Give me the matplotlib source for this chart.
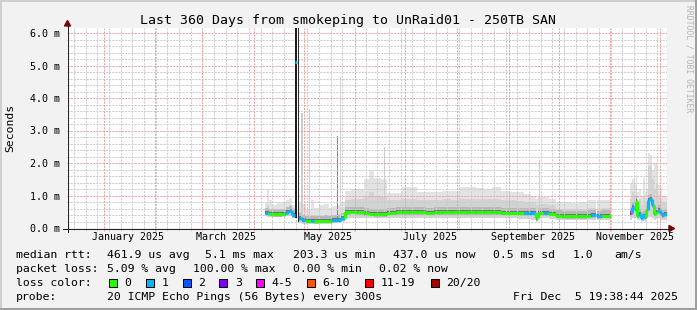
import numpy as np
import pandas as pd
import matplotlib
matplotlib.use("Agg")
import matplotlib.pyplot as plt
import matplotlib.dates as mdates
from matplotlib.transforms import Affine2D
from matplotlib.patches import Rectangle, Polygon
from matplotlib.lines import Line2D

W, H = 697, 310
nan = np.nan
MONO = "DejaVu Sans Mono"

# ---- data (values in ms) ----
# nan marks the end of a run of samples (gap follows)
day = [
    "2025-04-08 14:00", "2025-04-10", "2025-04-11", "2025-04-13", "2025-04-16", "2025-04-19",
    "2025-04-21", "2025-04-23", "2025-04-25", "2025-04-26 08:00",
    "2025-04-29 06:00", "2025-05-01", "2025-05-03", "2025-05-06", "2025-05-08", "2025-05-11",
    "2025-05-14", "2025-05-17", "2025-05-19", "2025-05-22", "2025-05-24 12:00",
    "2025-05-26 12:00", "2025-05-30", "2025-06-03", "2025-06-07", "2025-06-10", "2025-06-13",
    "2025-06-17", "2025-06-21", "2025-06-26", "2025-06-30", "2025-07-04", "2025-07-09",
    "2025-07-14", "2025-07-19", "2025-07-24", "2025-07-29", "2025-08-03", "2025-08-08",
    "2025-08-13", "2025-08-18", "2025-08-23", "2025-08-28", "2025-09-02", "2025-09-07",
    "2025-09-11", "2025-09-15", "2025-09-18",
    "2025-09-19 12:00", "2025-09-23", "2025-09-26", "2025-09-30", "2025-10-04", "2025-10-09",
    "2025-10-14", "2025-10-19", "2025-10-21", "2025-10-24",
    "2025-10-25", "2025-10-28", "2025-11-02",
    "2025-11-13 14:00", "2025-11-14 14:00", "2025-11-15 20:00", "2025-11-17 00:00",
    "2025-11-17 20:00", "2025-11-19 00:00", "2025-11-20 00:00", "2025-11-21 12:00",
    "2025-11-22 12:00", "2025-11-23 12:00", "2025-11-24 14:00", "2025-11-25 20:00",
    "2025-11-27 00:00", "2025-11-28 00:00", "2025-11-29 04:00", "2025-11-30 10:00",
    "2025-12-01 14:00", "2025-12-02 20:00", "2025-12-04 00:00", "2025-12-05 19:38",
]
median_ms = [
    0.47, 0.46, 0.44, 0.42, 0.42, 0.44, 0.49, 0.53, 0.40, nan,
    0.30, 0.24, 0.22, 0.22, 0.21, 0.22, 0.23, 0.22, 0.24, 0.25, 0.30,
    0.49, 0.50, 0.49, 0.46, 0.44, 0.42, 0.42, 0.47, 0.48, 0.48, 0.48, 0.48,
    0.47, 0.48, 0.48, 0.48, 0.48, 0.49, 0.48, 0.48, 0.48, 0.47, 0.47, 0.46,
    0.45, 0.45, 0.30,
    0.45, 0.45, 0.44, 0.38, 0.36, 0.36, 0.37, 0.38, 0.40, nan,
    0.36, 0.38, nan,
    0.45, 0.64, 0.60, 0.84, 0.38, 0.43, 0.32, 0.37, 0.33, 0.55, 0.86, 0.90,
    0.70, 0.44, 0.50, 0.55, 0.45, 0.40, 0.42, nan,
]
loss_idx = [
    1, 1, 0, 0, 0, 0, 1, 1, 1, 0,
    1, 1, 0, 1, 0, 0, 0, 0, 1, 1, 1,
    0, 0, 0, 0, 0, 0, 0, 0, 0, 0, 0, 0,
    0, 0, 0, 0, 0, 0, 0, 0, 0, 0, 0, 0,
    1, 1, 0,
    0, 1, 0, 0, 0, 0, 0, 0, 1, 0,
    1, 0, 0,
    4, 1, 1, 0, 0, 1, 1, 1, 1, 0, 1, 1,
    1, 0, 0, 1, 1, 1, 1, 0,
]
smoke_lo = [
    0.36, 0.33, 0.34, 0.33, 0.33, 0.34, 0.36, 0.38, 0.30, nan,
    0.15, 0.12, 0.12, 0.12, 0.12, 0.13, 0.13, 0.13, 0.14, 0.15, 0.18,
    0.30, 0.30, 0.30, 0.30, 0.30, 0.30, 0.30, 0.30, 0.30, 0.30, 0.30, 0.30,
    0.30, 0.30, 0.30, 0.30, 0.30, 0.30, 0.30, 0.30, 0.30, 0.30, 0.30, 0.28,
    0.28, 0.25, 0.20,
    0.30, 0.30, 0.28, 0.25, 0.24, 0.24, 0.25, 0.25, 0.25, nan,
    0.25, 0.25, nan,
    0.25, 0.30, 0.30, 0.35, 0.25, 0.25, 0.20, 0.22, 0.20, 0.30, 0.35, 0.35,
    0.30, 0.25, 0.28, 0.30, 0.25, 0.25, 0.25, nan,
]
smoke_mid = [
    0.62, 0.70, 0.60, 0.55, 0.58, 0.60, 0.66, 0.72, 0.62, nan,
    0.48, 0.40, 0.36, 0.40, 0.36, 0.38, 0.40, 0.36, 0.40, 0.42, 0.46,
    0.85, 0.90, 0.90, 1.00, 1.10, 1.00, 0.95, 0.85, 0.85, 0.90, 0.90, 0.85,
    0.85, 0.85, 0.88, 0.85, 0.90, 0.90, 0.90, 0.88, 0.88, 0.85, 0.85, 0.82,
    0.80, 0.80, 0.70,
    0.75, 0.75, 0.70, 0.60, 0.60, 0.60, 0.60, 0.62, 0.62, nan,
    0.60, 0.62, nan,
    0.90, 1.10, 1.00, 1.30, 0.80, 0.90, 0.70, 1.00, 0.80, 0.90, 1.90, 1.90,
    1.50, 1.20, 1.40, 1.00, 0.90, 0.80, 0.80, nan,
]
smoke_top = [
    0.80, 1.20, 0.85, 0.72, 0.76, 0.80, 0.86, 0.92, 0.70, nan,
    0.80, 0.75, 0.60, 0.85, 0.62, 0.70, 0.75, 0.62, 0.68, 0.70, 0.80,
    1.15, 1.20, 1.20, 1.50, 1.75, 1.55, 1.50, 1.07, 1.07, 1.27, 1.27, 1.10,
    1.12, 1.10, 1.15, 1.15, 1.25, 1.25, 1.22, 1.20, 1.25, 1.15, 1.10, 1.10,
    1.05, 1.00, 0.90,
    0.95, 0.95, 0.90, 0.80, 0.80, 0.78, 0.80, 0.85, 0.85, nan,
    0.86, 0.86, nan,
    1.38, 1.50, 1.40, 1.63, 1.10, 1.20, 1.00, 1.53, 1.10, 1.16, 2.30, 2.25,
    1.80, 2.00, 2.00, 1.32, 1.27, 1.00, 1.00, nan,
]

# isolated tall spikes
spike_day = ["2025-04-26 08:00", "2025-04-28 04:00", "2025-04-30 12:00", "2025-05-05 00:00",
             "2025-05-21 18:00", "2025-05-23 12:00", "2025-06-19 00:00", "2025-09-20 00:00"]
spike_lo = [0.30, 0.20, 0.30, 0.30, 0.30, 0.30, 0.50, 0.40]
spike_top = [6.15, 6.15, 3.55, 3.65, 2.82, 4.65, 2.50, 2.10]
spike_shade = ["#1c1c1c", "#2c2c2c", "#cccccc", "#cccccc", "#858585", "#d6d6d6", "#cccccc", "#cccccc"]
spike_span = [1.5, 0.6, 0.9, 0.9, 0.9, 0.8, 0.8, 0.8]
spike_median = 5.12

loss_labels = ["0", "1", "2", "3", "4-5", "6-10", "11-19", "20/20"]
loss_colors = ["#26ff00", "#00b8ff", "#0059ff", "#7e00ff", "#ff00ff", "#ff5500", "#ff0000", "#a10000"]

y_ticks = [0, 1, 2, 3, 4, 5, 6]
month_labels = ["January 2025", "March 2025", "May 2025", "July 2025", "September 2025", "November 2025"]
month_label_day = ["2025-01-16 12:00", "2025-03-16 12:00", "2025-05-16 12:00",
                   "2025-07-16 12:00", "2025-09-16 12:00", "2025-11-16 12:00"]

t_start = pd.Timestamp("2024-12-10 19:38:44")
t_end = pd.Timestamp("2025-12-05 19:38:44")

# ---- figure ----
fig = plt.figure(figsize=(W / 100, H / 100), dpi=100, facecolor="#f2f2f2")
px = Affine2D().scale(1 / W, -1 / H).translate(0, 1) + fig.transFigure

ax = fig.add_axes([67 / W, 82 / H, 600 / W, 200 / H])
ax.set_facecolor("white")
for s in ax.spines.values():
    s.set_visible(False)
ax.set_xlim(mdates.date2num(t_start), mdates.date2num(t_end))
ax.set_ylim(0, 200 / 32.5)

x = mdates.date2num(pd.to_datetime(day, format="ISO8601"))
med = np.array(median_ms)
lo = np.array(smoke_lo)
mid = np.array(smoke_mid)
top = np.array(smoke_top)
w = np.diff(x)

# smoke: light outer envelope, darker towards the median
for i in range(len(x) - 1):
    if np.isnan(med[i]):
        continue
    kw = dict(width=w[i], align="edge", linewidth=0, zorder=1)
    ax.bar(x[i], top[i] - lo[i], bottom=lo[i], color="#e3e3e3", **kw)
    ax.bar(x[i], mid[i] - lo[i], bottom=lo[i], color="#d3d3d3", **kw)
    ax.bar(x[i], 0.24, bottom=med[i] - 0.08, color="#b8b8b8", **kw)
    ax.bar(x[i], 0.11, bottom=med[i] - 0.05, color="#737373", **kw)

# grid (drawn over the smoke, like rrdtool)
grid_c = "#cbcbcb"
mgrid_c = "#eea0a0"
for k in range(1, 31):
    v = k * 0.2
    if v > 6.16:
        break
    major = k % 5 == 0
    ax.axhline(v, color=mgrid_c if major else grid_c, lw=0.72, dashes=(2, 1.2), zorder=2)
weeks = pd.date_range(t_start, t_end, freq="W-SUN").normalize()
months = pd.date_range(t_start, t_end, freq="MS")
for d in weeks:
    if d.day != 1:
        ax.axvline(mdates.date2num(d), color=grid_c, lw=0.72, dashes=(2, 1.2), zorder=2)
for d in months:
    ax.axvline(mdates.date2num(d), color=mgrid_c, lw=0.72, dashes=(2, 1.2), zorder=2)

ax.set_xticks(mdates.date2num(months))
ax.set_xticks(mdates.date2num(weeks), minor=True)
ax.tick_params(axis="x", which="major", length=2, width=0.7, color=mgrid_c, labelbottom=False)
ax.tick_params(axis="x", which="minor", length=2, width=0.7, color=grid_c)
ax.set_yticks([])

sx = mdates.date2num(pd.to_datetime(spike_day, format="ISO8601"))
for xi, l, t, c, sp in zip(sx, spike_lo, spike_top, spike_shade, spike_span):
    z = 2.5 if c < "#50" else 1.5
    ax.bar(xi, t - l, bottom=l, width=sp, align="edge", color=c, linewidth=0, zorder=z)

# median line coloured by loss
for i in range(len(x) - 1):
    if np.isnan(med[i]):
        continue
    c = loss_colors[loss_idx[i]]
    ax.hlines(med[i], x[i], x[i + 1], color=c, lw=2.2, zorder=3)
    if not np.isnan(med[i + 1]):
        ax.vlines(x[i + 1], min(med[i], med[i + 1]), max(med[i], med[i + 1]),
                  color=loss_colors[loss_idx[i + 1]], lw=2.2, zorder=3)
ax.hlines(spike_median, sx[0], sx[0] + spike_span[0], color=loss_colors[1], lw=2.2, zorder=3)

# axes with arrows
fig.add_artist(Line2D([63, 670], [228.5, 228.5], color="#202020", lw=0.75, transform=px))
fig.add_artist(Line2D([67.5, 67.5], [232, 24], color="#202020", lw=0.75, transform=px))
fig.add_artist(Polygon([(669, 225.5), (669, 231.5), (674.5, 228.5)], closed=True,
                       color="#800000", transform=px))
fig.add_artist(Polygon([(64.5, 26), (70.5, 26), (67.5, 20.5)], closed=True,
                       color="#800000", transform=px))

# tick labels
for v in y_ticks:
    fig.text(60, 228 - 32.5 * v + 4, "%.1f m" % v, ha="right", va="baseline",
             family=MONO, fontsize=7.2, transform=px)
for lab, d in zip(month_labels, month_label_day):
    xd = mdates.date2num(pd.Timestamp(d))
    xp = 67 + 600 * (xd - ax.get_xlim()[0]) / (ax.get_xlim()[1] - ax.get_xlim()[0])
    fig.text(xp, 240, lab, ha="center", va="baseline", family=MONO, fontsize=7.2, transform=px)

# title, y label, watermark
fig.text(348.5, 24, "Last 360 Days from smokeping to UnRaid01 - 250TB SAN", ha="center",
         va="baseline", family=MONO, fontsize=9.5, transform=px)
fig.text(10, 128, "Seconds", rotation=90, ha="center", va="center", family=MONO,
         fontsize=8.2, transform=px)
fig.text(688.5, 5, "RRDTOOL / TOBI OETIKER", rotation=270, ha="center", va="top",
         family=MONO, fontsize=5.8, color="#b4b4b4", transform=px)

# legend / stats
stats = [
    (258, [(16, "median rtt:"), (107, "461.9 us avg"), (205, "5.1 ms max"), (293, "203.3 us min"),
           (393, "437.0 us now"), (493, "0.5 ms sd"), (573, "1.0"), (614, "am/s")]),
    (272, [(16, "packet loss:"), (107, "5.09 % avg"), (193, "100.00 % max"), (293, "0.00 % min"),
           (379, "0.02 % now")]),
    (286, [(16, "loss color:")]),
    (300, [(16, "probe:"), (107, "20 ICMP Echo Pings (56 Bytes) every 300s"),
           (513, "Fri Dec  5 19:38:44 2025")]),
]
for yb, items in stats:
    for xp, s in items:
        fig.text(xp, yb, s, ha="left", va="baseline", family=MONO, fontsize=8.25, transform=px)

box_x = [108.7, 145.7, 182.7, 219.3, 256.3, 306.7, 365.3, 430.7]
for bx, lab, c in zip(box_x, loss_labels, loss_colors):
    fig.add_artist(Rectangle((bx, 278.5), 8, 8, facecolor=c, edgecolor="black", lw=0.75,
                             transform=px))
    fig.text(bx + 15.5, 286, lab, ha="left", va="baseline", family=MONO, fontsize=8.25,
             transform=px)

# frame shading
fig.add_artist(Rectangle((0, 0), W, 2, color="#cfcfcf", lw=0, transform=px))
fig.add_artist(Rectangle((0, 0), 2, H, color="#cfcfcf", lw=0, transform=px))
fig.add_artist(Rectangle((0, H - 2), W, 2, color="#9e9e9e", lw=0, transform=px))
fig.add_artist(Rectangle((W - 2, 0), 2, H, color="#9e9e9e", lw=0, transform=px))

fig.savefig("out.png", dpi=100, facecolor=fig.get_facecolor())
